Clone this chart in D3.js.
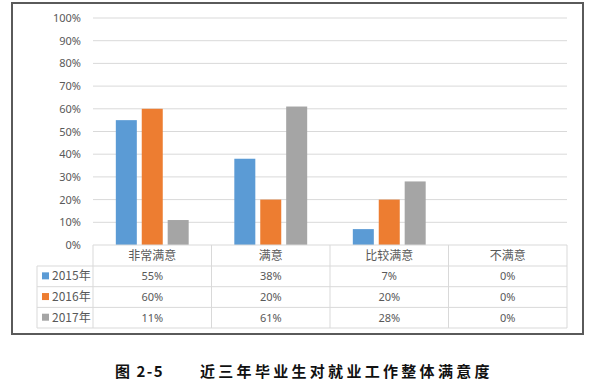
<!DOCTYPE html>
<html><head><meta charset="utf-8">
<script src="https://cdn.jsdelivr.net/npm/d3@7/dist/d3.min.js"></script>
<style>
body{margin:0;background:#fff;}
svg{display:block;font-family:"Noto Sans CJK SC","Noto Sans",sans-serif;}
</style></head><body>
<svg id="c" width="600" height="384"></svg>
<script>
const categories = ["非常满意","满意","比较满意","不满意"];
const seriesNames = ["2015年","2016年","2017年"];
const v2015 = [55,38,7,0];
const v2016 = [60,20,20,0];
const v2017 = [11,61,28,0];
const yTicks = [0,10,20,30,40,50,60,70,80,90,100];
const colors = ["#5B9BD5","#ED7D31","#A5A5A5"];
const series = [v2015,v2016,v2017];

const svg = d3.select("#c");
const L = 93, R = 567, T = 18, B = 245;
const x = d3.scaleBand().domain(categories).range([L,R]);
const y = d3.scaleLinear().domain([0,100]).range([B,T]);
const xs = d3.scaleBand().domain(seriesNames).range([0,x.bandwidth()]).paddingInner(0.19).paddingOuter(0.88);

// frame
svg.append("rect").attr("x",12).attr("y",3).attr("width",571).attr("height",331)
  .attr("fill","none").attr("stroke","#5a5a5a").attr("stroke-width",2);

// gridlines
svg.append("g").selectAll("line").data(yTicks.filter(d=>d>0)).join("line")
  .attr("x1",L).attr("x2",R).attr("y1",d=>y(d)).attr("y2",d=>y(d))
  .attr("stroke","#d9d9d9").attr("stroke-width",1);

// y axis labels
const ya = svg.append("g").attr("transform",`translate(${L},0)`)
  .call(d3.axisLeft(y).tickValues(yTicks).tickFormat(d=>d+"%").tickSize(0).tickPadding(12));
ya.select(".domain").remove();
ya.selectAll("text").attr("fill","#595959").style("font-size","11px").style("font-family","'Noto Sans','Noto Sans CJK SC',sans-serif");

// bars
series.forEach((vals,si)=>{
  svg.append("g").selectAll("rect").data(vals.map((v,i)=>({c:categories[i],v}))).join("rect")
    .attr("x",d=>x(d.c)+xs(seriesNames[si]))
    .attr("width",xs.bandwidth())
    .attr("y",d=>y(d.v)).attr("height",d=>B-y(d.v))
    .attr("fill",colors[si]);
});

// data table
const rowY = [B, B+21, B+41.7, B+62.4, B+83];
const tL = 37;
const g = svg.append("g");
const line = (x1,y1,x2,y2)=>g.append("line").attr("x1",x1).attr("y1",y1).attr("x2",x2).attr("y2",y2).attr("stroke","#d9d9d9").attr("stroke-width",1);
line(L,rowY[0],R,rowY[0]);
for(let i=1;i<5;i++) line(tL,rowY[i],R,rowY[i]);
line(tL,rowY[1],tL,rowY[4]);
categories.forEach(c=>line(x(c),rowY[0],x(c),rowY[4]));
line(R,rowY[0],R,rowY[4]);

g.selectAll("text.h").data(categories).join("text").attr("class","h")
  .attr("x",d=>x(d)+x.bandwidth()/2).attr("y",(rowY[0]+rowY[1])/2+4.5)
  .attr("text-anchor","middle").attr("fill","#595959").style("font-size","12px").text(d=>d);

series.forEach((vals,si)=>{
  const cy = (rowY[si+1]+rowY[si+2])/2;
  g.append("rect").attr("x",42).attr("y",cy-4).attr("width",7).attr("height",7).attr("fill",colors[si]);
  g.append("text").attr("x",52).attr("y",cy+4).attr("fill","#595959").style("font-size","12px").text(seriesNames[si]);
  g.selectAll(null).data(vals.map((v,i)=>({c:categories[i],v}))).join("text")
    .attr("x",d=>x(d.c)+x.bandwidth()/2).attr("y",cy+4)
    .attr("text-anchor","middle").attr("fill","#595959").style("font-size","11px")
    .style("font-family","'Noto Sans','Noto Sans CJK SC',sans-serif")
    .text(d=>d.v+"%");
});

// caption
svg.append("text").attr("x",115).attr("y",377).attr("fill","#111").style("font-size","15px").style("font-weight","bold")
  .style("letter-spacing","1.5px").text("图 2-5");
svg.append("text").attr("x",200).attr("y",377).attr("fill","#111").style("font-size","15px").style("font-weight","bold")
  .style("letter-spacing","3.3px").text("近三年毕业生对就业工作整体满意度");
</script>
</body></html>
